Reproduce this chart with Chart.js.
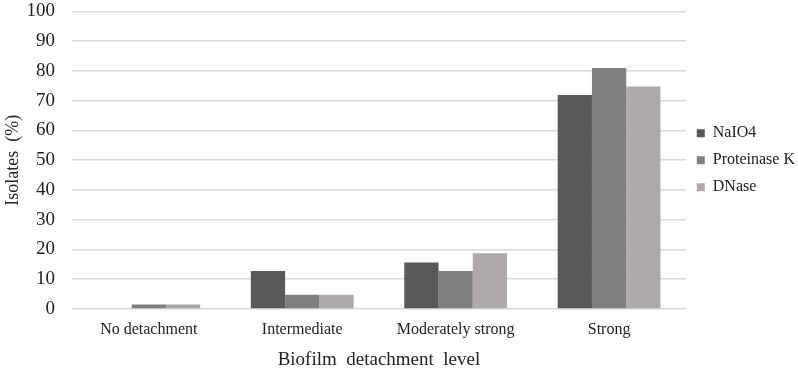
<!DOCTYPE html>
<html>
<head>
<meta charset="utf-8">
<script src="https://cdn.jsdelivr.net/npm/chart.js@4"></script>
<style>
  html, body { margin: 0; padding: 0; background: #fff; }
  #wrap { width: 798px; height: 373px; }
</style>
</head>
<body>
<div id="wrap"><canvas id="barChart"></canvas></div>
<script>
const categories = ['No detachment', 'Intermediate', 'Moderately strong', 'Strong'];
const naio4 = [0, 12.8, 15.6, 71.9];
const proteinaseK = [1.5, 4.8, 12.8, 81];
const dnase = [1.5, 4.8, 18.7, 74.8];

const serif = "'Liberation Serif', 'Times New Roman', serif";

const ctx = document.getElementById('barChart').getContext('2d');
const barChart = new Chart(ctx, {
    type: 'bar',
    data: {
        labels: categories,
        datasets: [{
            label: 'NaIO4',
            backgroundColor: '#595959',
            data: naio4
        }, {
            label: 'Proteinase K',
            backgroundColor: '#7f7f7f',
            data: proteinaseK
        }, {
            label: 'DNase',
            backgroundColor: '#aeaaaa',
            data: dnase
        }]
    },
    options: {
        responsive: true,
        maintainAspectRatio: false,
        animation: false,
        layout: {
            padding: { top: -1, right: -7, bottom: 2, left: 2 }
        },
        datasets: {
            bar: {
                categoryPercentage: 0.67,
                barPercentage: 1.0
            }
        },
        plugins: {
            tooltip: { enabled: false },
            legend: {
                position: 'right',
                fullSize: false,
                labels: {
                    boxWidth: 8,
                    boxHeight: 8,
                    padding: 11,
                    font: { family: serif, size: 16 },
                    color: '#222'
                }
            }
        },
        scales: {
            x: {
                grid: { display: false, drawTicks: false },
                border: { display: false },
                ticks: {
                    padding: 11,
                    maxRotation: 0,
                    font: { family: serif, size: 16 },
                    color: '#222'
                },
                title: {
                    display: true,
                    text: 'Biofilm  detachment  level',
                    font: { family: serif, size: 19 },
                    color: '#222',
                    padding: { top: -2, bottom: 0 }
                }
            },
            y: {
                min: 0,
                max: 100,
                ticks: {
                    stepSize: 10,
                    padding: 0,
                    font: { family: serif, size: 19 },
                    color: '#222'
                },
                grid: {
                    color: '#d9d9d9',
                    lineWidth: 1.5,
                    drawTicks: true,
                    tickLength: 17,
                    tickColor: 'rgba(0,0,0,0)'
                },
                border: { display: false },
                title: {
                    display: true,
                    text: 'Isolates  (%)',
                    font: { family: serif, size: 18 },
                    color: '#222',
                    padding: { top: 0, bottom: 3 }
                }
            }
        }
    }
});
</script>
</body>
</html>
